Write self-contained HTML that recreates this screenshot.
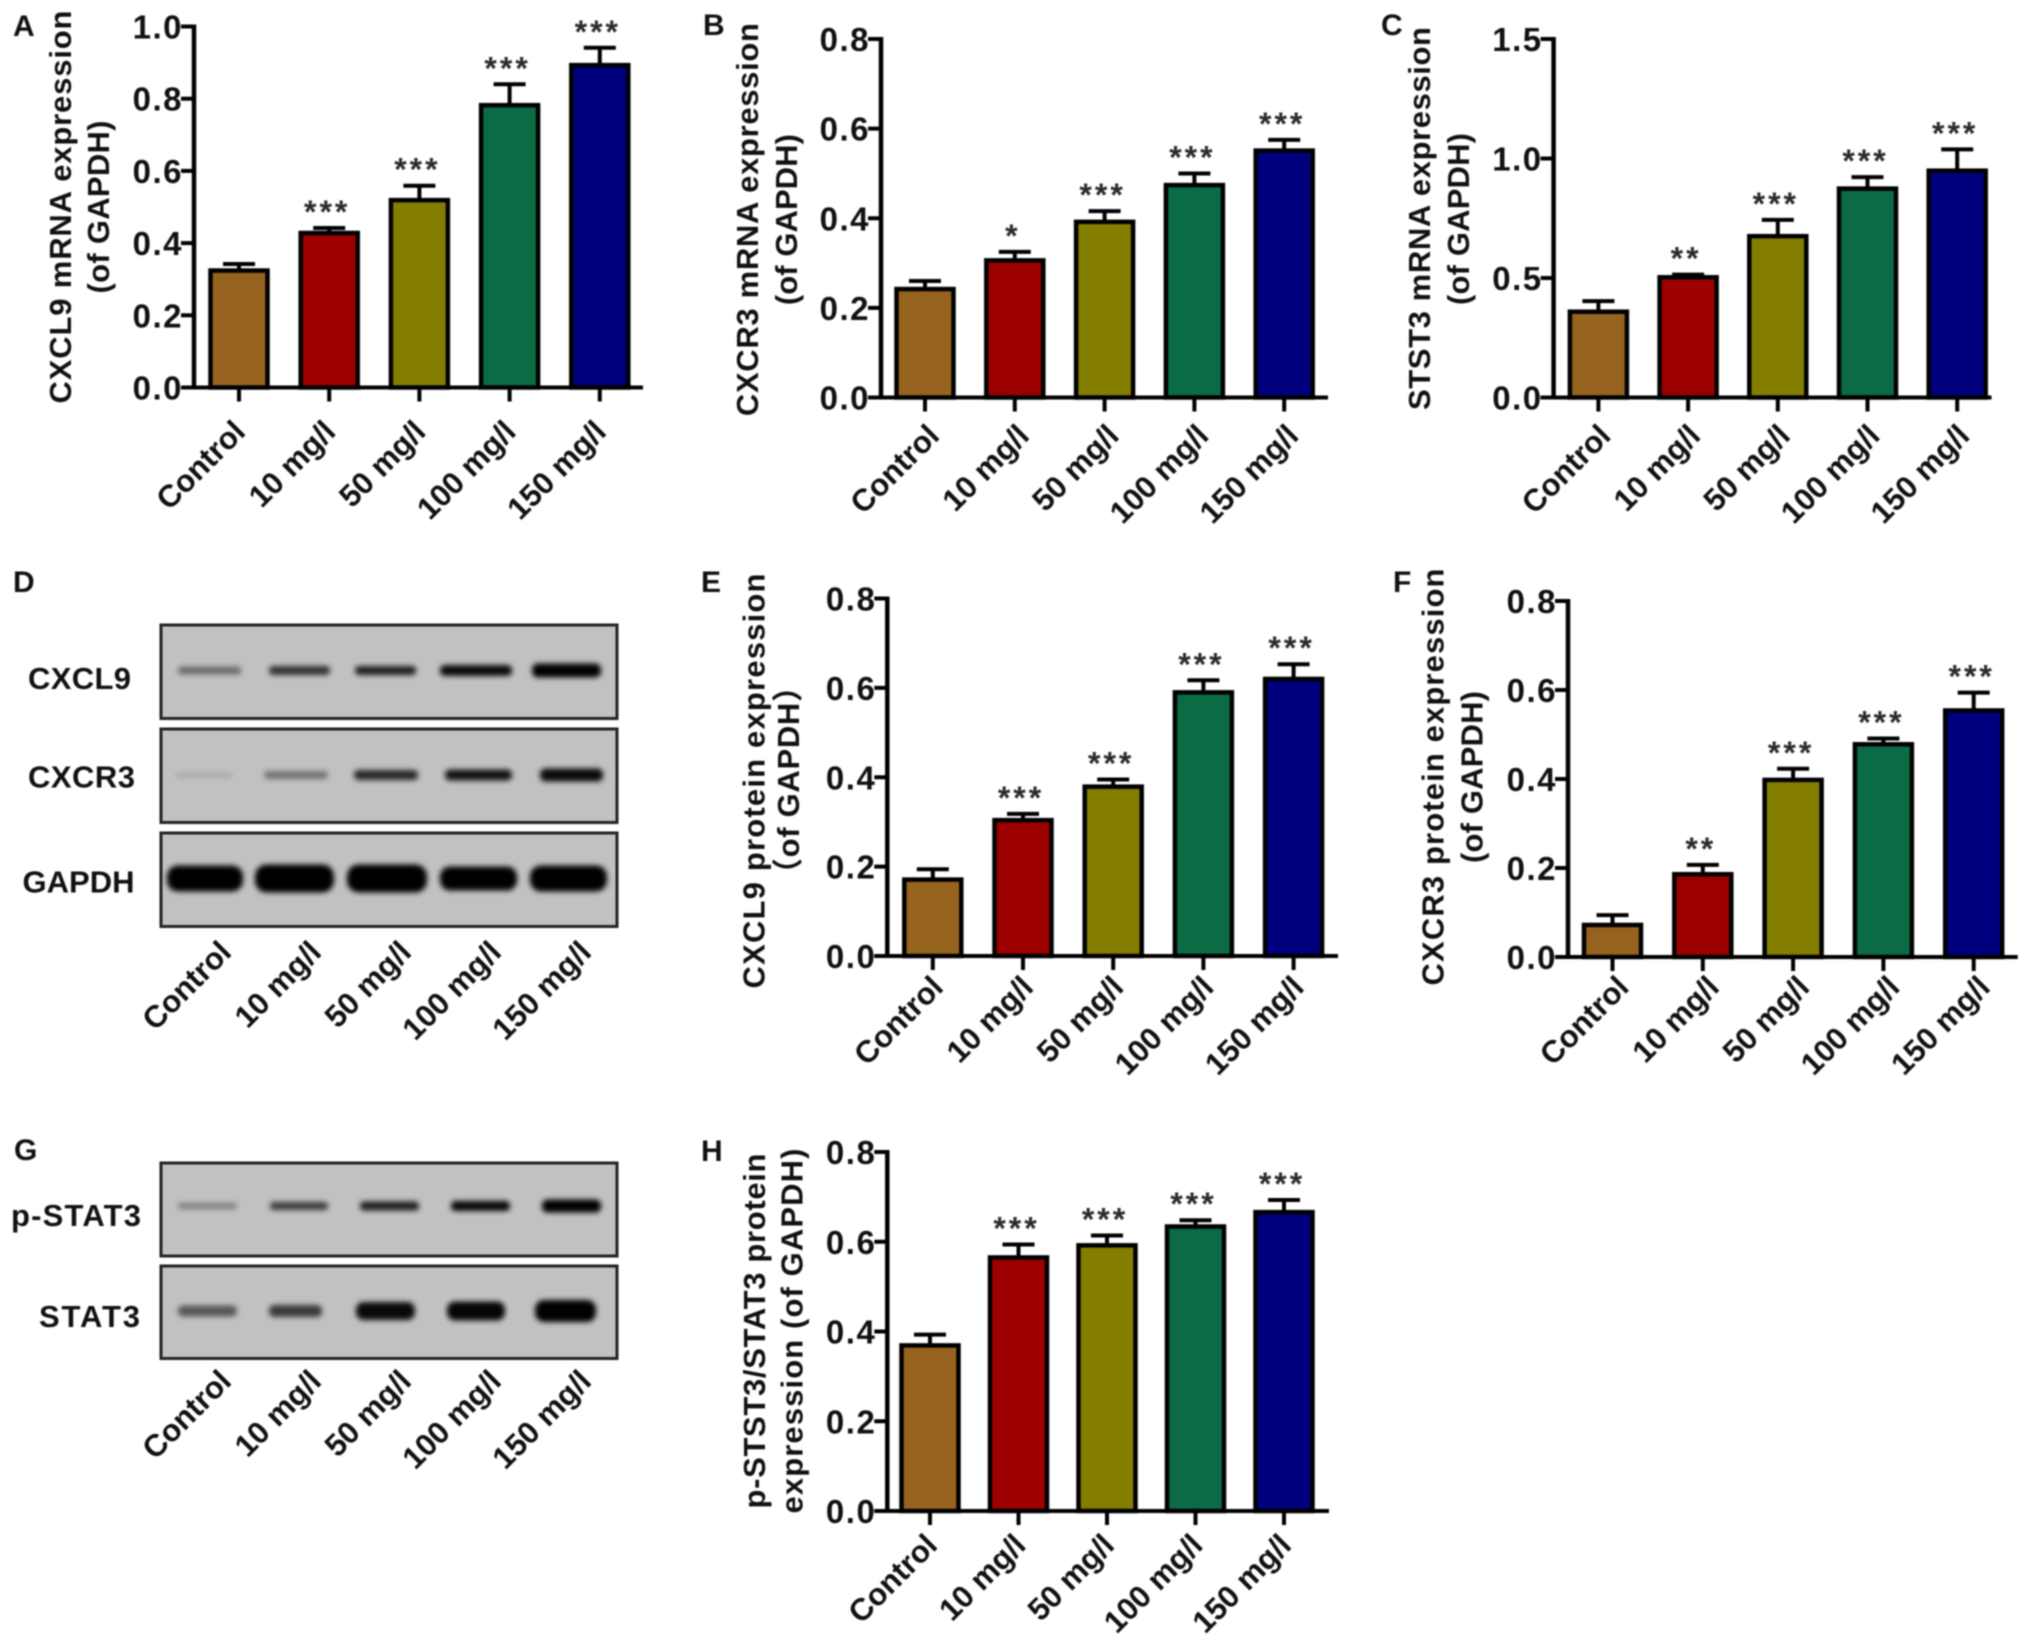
<!DOCTYPE html>
<html lang="en">
<head>
<meta charset="utf-8">
<title>CXCL9, CXCR3 and STAT3 expression</title>
<style>
  html, body { margin: 0; padding: 0; background: #fff; }
  svg { display: block; filter: blur(0.7px); }
  text { font-family: "Liberation Sans", "Noto Sans CJK SC", sans-serif; font-weight: bold; fill: #111; }
</style>
</head>
<body>
<svg id="figure" xmlns="http://www.w3.org/2000/svg" width="2031" height="1651" viewBox="0 0 2031 1651">
  <defs>
    <filter id="band-blur" x="-20%" y="-100%" width="140%" height="300%"><feGaussianBlur stdDeviation="2.6"></feGaussianBlur></filter>
  </defs>
  <rect x="0" y="0" width="2031" height="1651" fill="#ffffff"></rect>
</svg>
<script>
/* ---------- chart data ---------- */
const categories = ['Control', '10 mg/l', '50 mg/l', '100 mg/l', '150 mg/l'];
const barColors = ['#96631f', '#9d0000', '#837d00', '#0b6b45', '#00007f'];

const yTicksA = ['0.0', '0.2', '0.4', '0.6', '0.8', '1.0'];
const valuesA = [0.324, 0.428, 0.519, 0.782, 0.893];
const errorsA = [0.018, 0.014, 0.040, 0.058, 0.048];
const starsA = ['', '***', '***', '***', '***'];

const yTicksB = ['0.0', '0.2', '0.4', '0.6', '0.8'];
const valuesB = [0.242, 0.306, 0.392, 0.474, 0.551];
const errorsB = [0.018, 0.019, 0.024, 0.026, 0.024];
const starsB = ['', '*', '***', '***', '***'];

const yTicksC = ['0.0', '0.5', '1.0', '1.5'];
const valuesC = [0.359, 0.503, 0.675, 0.874, 0.949];
const errorsC = [0.044, 0.011, 0.068, 0.048, 0.089];
const starsC = ['', '**', '***', '***', '***'];

const yTicksE = ['0.0', '0.2', '0.4', '0.6', '0.8'];
const valuesE = [0.171, 0.304, 0.379, 0.590, 0.620];
const errorsE = [0.023, 0.014, 0.016, 0.027, 0.033];
const starsE = ['', '***', '***', '***', '***'];

const yTicksF = ['0.0', '0.2', '0.4', '0.6', '0.8'];
const valuesF = [0.072, 0.186, 0.398, 0.478, 0.554];
const errorsF = [0.022, 0.021, 0.025, 0.013, 0.040];
const starsF = ['', '**', '***', '***', '***'];

const yTicksH = ['0.0', '0.2', '0.4', '0.6', '0.8'];
const valuesH = [0.369, 0.565, 0.592, 0.634, 0.666];
const errorsH = [0.024, 0.029, 0.022, 0.014, 0.027];
const starsH = ['', '***', '***', '***', '***'];

/* band darkness per lane for each western-blot row */
const bandDarknessCXCL9 = [0.45, 0.75, 0.85, 0.95, 1];
const bandDarknessCXCR3 = [0.12, 0.40, 0.80, 0.90, 0.95];
const bandDarknessGAPDH = [1, 1, 1, 1, 1];
const bandDarknessPSTAT3 = [0.35, 0.70, 0.85, 0.97, 1];
const bandDarknessSTAT3 = [0.55, 0.70, 0.95, 0.97, 1];

/* ---------- layout ---------- */
const panels = [
  { id: 'a', letter: 'A', lx: 13, ly: 36, axisX: 194, top: 26.5, bottom: 387.5, xEnd: 643, first: 239, step: 90.2, max: 1.0, labelDx: 8, labelDy: 46,
    ticks: yTicksA, values: valuesA, errors: errorsA, stars: starsA,
    titles: [['CXCL9 mRNA expression', 71, 207, 393], ['(of GAPDH)', 109, 207, 173]] },
  { id: 'b', letter: 'B', lx: 703, ly: 35, axisX: 881, top: 39, bottom: 397.5, xEnd: 1328, first: 925, step: 89.8, max: 0.8, labelDx: 16, labelDy: 40,
    ticks: yTicksB, values: valuesB, errors: errorsB, stars: starsB,
    titles: [['CXCR3 mRNA expression', 758, 219.6, 393], ['(of GAPDH)', 797, 219.6, 171]] },
  { id: 'c', letter: 'C', lx: 1381, ly: 35, axisX: 1553.6, top: 39, bottom: 397.5, xEnd: 1991.5, first: 1598.4, step: 89.7, max: 1.5, labelDx: 14, labelDy: 40,
    ticks: yTicksC, values: valuesC, errors: errorsC, stars: starsC,
    titles: [['STST3 mRNA expression', 1430, 218.5, 383], ['(of GAPDH)', 1469, 219, 172]] },
  { id: 'e', letter: 'E', lx: 701, ly: 592, axisX: 887.3, top: 598.5, bottom: 956, xEnd: 1338, first: 932.8, step: 90.2, max: 0.8, labelDx: 12, labelDy: 33,
    ticks: yTicksE, values: valuesE, errors: errorsE, stars: starsE,
    titles: [['CXCL9 protein expression', 764.5, 781, 415], ['（of GAPDH）', 799, 780, 218]] },
  { id: 'f', letter: 'F', lx: 1393, ly: 592, axisX: 1568, top: 601, bottom: 957, xEnd: 2017.7, first: 1612.5, step: 90.3, max: 0.8, labelDx: 18, labelDy: 32,
    ticks: yTicksF, values: valuesF, errors: errorsF, stars: starsF,
    titles: [['CXCR3 protein expression', 1443.5, 777, 417], ['(of GAPDH)', 1482.5, 777, 172]] },
  { id: 'h', letter: 'H', lx: 701, ly: 1161, axisX: 887.3, top: 1152, bottom: 1511, xEnd: 1329, first: 930, step: 88.5, max: 0.8, labelDx: 9, labelDy: 36,
    ticks: yTicksH, values: valuesH, errors: errorsH, stars: starsH,
    titles: [['p-STST3/STAT3 protein', 765, 1331, 355], ['expression (of GAPDH)', 802.5, 1331, 365]] }
];

const blots = [
  { id: 'd', letter: 'D', lx: 13, ly: 592, left: 161, right: 617, labelsY: 954,
    rows: [
      { name: 'CXCL9', top: 625, bottom: 718.5, bandY: 670.5, labelX: 28, labelBase: 689, labelLen: 103, dark: bandDarknessCXCL9,
        spans: [[176, 243], [267, 332], [353, 418], [438, 514], [530, 603]], thick: [8, 9, 9, 11, 14] },
      { name: 'CXCR3', top: 729, bottom: 822.5, bandY: 775, labelX: 28, labelBase: 787.5, labelLen: 107, dark: bandDarknessCXCR3,
        spans: [[174, 234], [262, 330], [352, 420], [443, 514], [538, 605]], thick: [5, 8, 10, 11, 13] },
      { name: 'GAPDH', top: 833, bottom: 926.5, bandY: 878.5, labelX: 22.5, labelBase: 892.5, labelLen: 112, dark: bandDarknessGAPDH,
        spans: [[165, 245], [253, 336], [345, 429], [438, 519], [528, 609]], thick: [26, 28, 28, 24, 26] }
    ] },
  { id: 'g', letter: 'G', lx: 14, ly: 1160, left: 161, right: 617, labelsY: 1383,
    rows: [
      { name: 'p-STAT3', top: 1163, bottom: 1256, bandY: 1206, labelX: 11, labelBase: 1226, labelLen: 130, dark: bandDarknessPSTAT3,
        spans: [[176, 239], [268, 330], [358, 421], [449, 512], [540, 603]], thick: [6, 8, 9, 10, 13] },
      { name: 'STAT3', top: 1266, bottom: 1358.5, bandY: 1311, labelX: 39, labelBase: 1327, labelLen: 101, dark: bandDarknessSTAT3,
        spans: [[176, 239], [267, 324], [354, 417], [445, 507], [533, 598]], thick: [11, 12, 18, 19, 22] }
    ] }
];

const blotLabelFirst = 233;
const blotLabelStep = 90;

/* ---------- drawing ---------- */
const figure = document.getElementById('figure');
const NS = 'http://www.w3.org/2000/svg';

function make(tag, attrs, parent) {
  const node = document.createElementNS(NS, tag);
  Object.keys(attrs).forEach(function (k) { node.setAttribute(k, attrs[k]); });
  parent.appendChild(node);
  return node;
}

function drawLetter(letter, x, y) {
  const t = make('text', { x: x, y: y, 'font-size': 30 }, figure);
  
  
  t.textContent = letter;
}

function drawCategoryLabel(parent, text, x, y, panelId, i) {
  const t = make('text', { transform: 'translate(' + x + ',' + y + ') rotate(-45)', 'text-anchor': 'end', 'font-size': 31 }, parent);
  
  
  t.textContent = text;
}

panels.forEach(function (p) {
  const g = make('g', {}, figure);
  
  

  drawLetter(p.letter, p.lx, p.ly);

  const yScale = function (v) { return p.bottom - (v / p.max) * (p.bottom - p.top); };
  const xScale = function (i) { return p.first + i * p.step; };

  p.titles.forEach(function (tt, i) {
    const t = make('text', { transform: 'translate(' + tt[1] + ',' + tt[2] + ') rotate(-90)', 'text-anchor': 'middle', 'font-size': 31, textLength: tt[3], lengthAdjust: 'spacing' }, g);
    
    
    t.textContent = tt[0];
  });

  p.values.forEach(function (v, i) {
    const cx = xScale(i);
    const yTop = yScale(v);
    const yErr = yScale(v + p.errors[i]);

    const stem = make('line', { x1: cx, x2: cx, y1: yTop, y2: yErr, stroke: '#000', 'stroke-width': 4 }, g);
    
    

    const cap = make('line', { x1: cx - 16, x2: cx + 16, y1: yErr, y2: yErr, stroke: '#000', 'stroke-width': 4 }, g);
    
    

    const bar = make('rect', { x: cx - 28.5, y: yTop, width: 57, height: p.bottom - yTop, fill: barColors[i], stroke: '#000', 'stroke-width': 4.5 }, g);
    
    

    if (p.stars[i]) {
      const s = make('text', { x: cx - 2, y: yErr - 5, 'text-anchor': 'middle', 'font-size': 32, 'letter-spacing': 3 }, g);
      
      
      s.style.fill = '#2a2a2a';
      s.textContent = p.stars[i];
    }

    const tick = make('line', { x1: cx, x2: cx, y1: p.bottom, y2: p.bottom + 14, stroke: '#000', 'stroke-width': 4 }, g);
    
    

    drawCategoryLabel(g, categories[i], cx + p.labelDx, p.bottom + p.labelDy, p.id, i);
  });

  const yAxis = make('line', { x1: p.axisX, x2: p.axisX, y1: p.top - 2, y2: p.bottom + 2, stroke: '#000', 'stroke-width': 4.5 }, g);
  
  

  const xAxis = make('line', { x1: p.axisX - 13, x2: p.xEnd, y1: p.bottom, y2: p.bottom, stroke: '#000', 'stroke-width': 4 }, g);
  
  

  p.ticks.forEach(function (label, i) {
    const v = i * p.max / (p.ticks.length - 1);
    const y = yScale(v);

    const tick = make('line', { x1: p.axisX - 13, x2: p.axisX, y1: y, y2: y, stroke: '#000', 'stroke-width': 4 }, g);
    
    

    const t = make('text', { x: p.axisX - 11, y: y + 12, 'text-anchor': 'end', 'font-size': 33, 'letter-spacing': 1.5 }, g);
    
    
    t.textContent = label;
  });
});

blots.forEach(function (b) {
  const g = make('g', {}, figure);
  
  

  drawLetter(b.letter, b.lx, b.ly);

  b.rows.forEach(function (r) {
    const key = r.name.toLowerCase();

    const box = make('rect', { x: b.left, y: r.top, width: b.right - b.left, height: r.bottom - r.top, fill: '#c1c1c1', stroke: '#222', 'stroke-width': 3 }, g);
    
    

    r.spans.forEach(function (sp, i) {
      const band = make('rect', { x: sp[0] + 2, y: r.bandY - r.thick[i] / 2, width: sp[1] - sp[0] - 4, height: r.thick[i], rx: r.thick[i] / 2.4, fill: '#000', opacity: r.dark[i], filter: 'url(#band-blur)' }, g);
      
      
    });

    const label = make('text', { x: r.labelX, y: r.labelBase, 'font-size': 31, textLength: r.labelLen, lengthAdjust: 'spacing' }, g);
    
    
    label.textContent = r.name;
  });

  categories.forEach(function (c, i) {
    drawCategoryLabel(g, c, blotLabelFirst + i * blotLabelStep, b.labelsY, b.id, i);
  });
});
</script>
</body>
</html>
